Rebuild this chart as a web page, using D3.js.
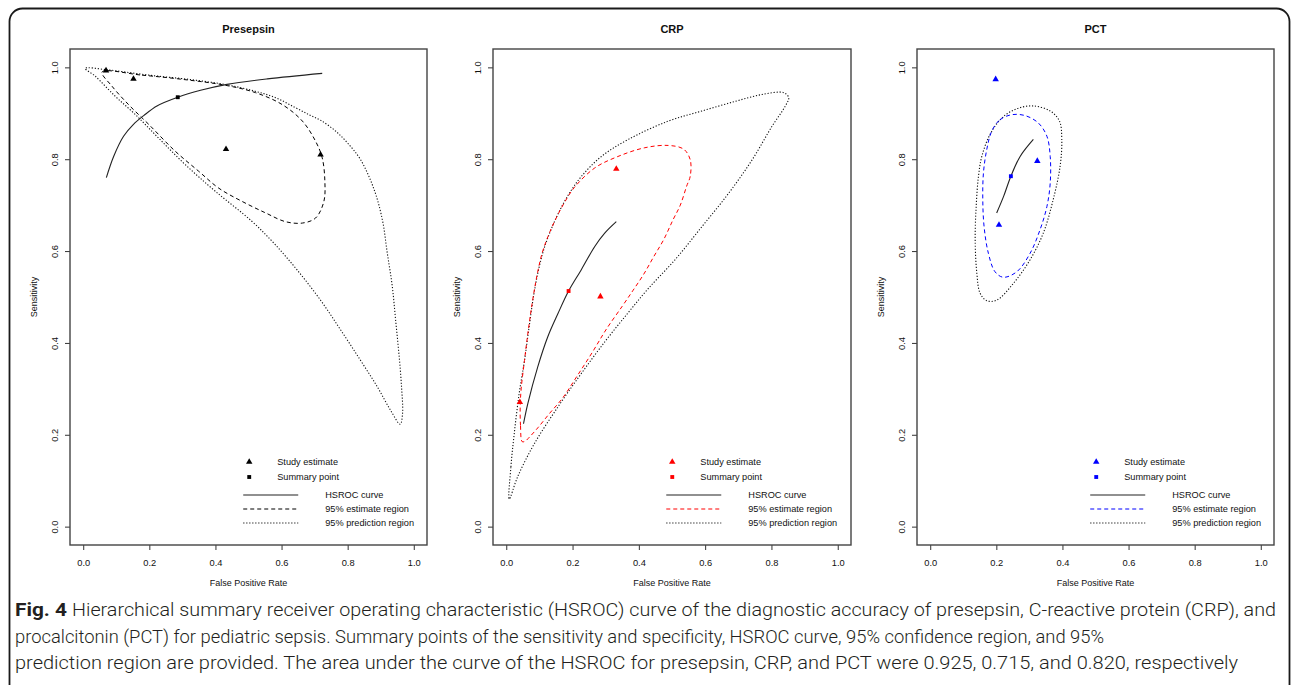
<!DOCTYPE html>
<html lang="en">
<head>
<meta charset="utf-8">
<style>
  body { margin: 0; background: #fff; }
  svg text { font-family: "Liberation Sans", Arial, sans-serif; fill: #111; }
</style>
</head>
<body>
<div id="chart"></div>
<script src="https://cdnjs.cloudflare.com/ajax/libs/d3/7.8.5/d3.min.js"></script>
<script>
// values: [false positive rate, sensitivity]
var axisTicks = [0, 0.2, 0.4, 0.6, 0.8, 1.0];

var presepsinStudies = [[0.069, 0.993], [0.152, 0.975], [0.432, 0.822], [0.718, 0.810]];
var presepsinSummary = [0.286, 0.935];
var presepsinCurve = [[0.070, 0.760], [0.092, 0.806], [0.122, 0.850], [0.152, 0.876], [0.183, 0.895],
  [0.223, 0.916], [0.286, 0.935], [0.355, 0.950], [0.435, 0.963], [0.557, 0.975], [0.723, 0.987]];
var presepsinEstimate = [[0.057, 0.990], [0.178, 0.983], [0.299, 0.974], [0.430, 0.961], [0.521, 0.945],
  [0.602, 0.919], [0.663, 0.883], [0.703, 0.839], [0.723, 0.803], [0.731, 0.752], [0.728, 0.708],
  [0.703, 0.672], [0.663, 0.661], [0.612, 0.664], [0.552, 0.683], [0.481, 0.708], [0.410, 0.737],
  [0.349, 0.774], [0.279, 0.817], [0.198, 0.876], [0.137, 0.919], [0.087, 0.959]];
var presepsinPrediction = [[0.006, 0.998], [0.070, 0.995], [0.200, 0.983], [0.330, 0.973], [0.435, 0.962],
  [0.520, 0.948], [0.582, 0.934], [0.640, 0.913], [0.683, 0.897], [0.720, 0.884], [0.764, 0.861],
  [0.800, 0.835], [0.839, 0.799], [0.880, 0.734], [0.905, 0.668], [0.920, 0.595], [0.935, 0.523],
  [0.945, 0.450], [0.955, 0.377], [0.963, 0.304], [0.966, 0.246], [0.959, 0.223], [0.930, 0.253],
  [0.890, 0.304], [0.839, 0.362], [0.779, 0.428], [0.718, 0.493], [0.647, 0.559], [0.577, 0.617],
  [0.510, 0.665], [0.400, 0.730], [0.309, 0.788], [0.228, 0.846], [0.158, 0.897], [0.097, 0.937],
  [0.036, 0.981]];

var crpStudies = [[0.332, 0.779], [0.284, 0.501], [0.041, 0.271]];
var crpSummary = [0.188, 0.513];
var crpCurve = [[0.052, 0.224], [0.065, 0.268], [0.095, 0.348], [0.125, 0.413], [0.156, 0.464],
  [0.188, 0.513], [0.226, 0.559], [0.267, 0.610], [0.297, 0.639], [0.332, 0.664]];
var crpEstimate = [[0.048, 0.185], [0.043, 0.220], [0.042, 0.260], [0.045, 0.300], [0.055, 0.362],
  [0.066, 0.425], [0.079, 0.490], [0.093, 0.548], [0.108, 0.595], [0.126, 0.632], [0.148, 0.668],
  [0.175, 0.705], [0.206, 0.739], [0.267, 0.781], [0.337, 0.806], [0.418, 0.825], [0.489, 0.830],
  [0.535, 0.822], [0.555, 0.799], [0.555, 0.763], [0.544, 0.741], [0.525, 0.700], [0.503, 0.668],
  [0.475, 0.625], [0.445, 0.588], [0.415, 0.550], [0.383, 0.515], [0.350, 0.480], [0.302, 0.430],
  [0.260, 0.380], [0.212, 0.326], [0.170, 0.280], [0.130, 0.246], [0.095, 0.215], [0.070, 0.195],
  [0.057, 0.186]];
var crpPrediction = [[0.009, 0.060], [0.014, 0.130], [0.024, 0.202], [0.039, 0.290], [0.055, 0.362],
  [0.069, 0.435], [0.083, 0.505], [0.097, 0.558], [0.113, 0.603], [0.133, 0.643], [0.157, 0.682],
  [0.187, 0.722], [0.226, 0.762], [0.287, 0.806], [0.368, 0.843], [0.489, 0.883], [0.590, 0.905],
  [0.691, 0.926], [0.772, 0.941], [0.837, 0.945], [0.852, 0.934], [0.842, 0.916], [0.802, 0.872],
  [0.742, 0.799], [0.671, 0.726], [0.590, 0.653], [0.509, 0.581], [0.428, 0.518], [0.368, 0.466],
  [0.300, 0.405], [0.226, 0.333], [0.160, 0.265], [0.085, 0.181], [0.034, 0.108]];

var pctStudies = [[0.198, 0.974], [0.324, 0.796], [0.208, 0.657]];
var pctSummary = [0.244, 0.763];
var pctCurve = [[0.201, 0.683], [0.222, 0.719], [0.244, 0.763], [0.272, 0.806], [0.312, 0.843]];
var pctEstimate = [[0.186, 0.861], [0.211, 0.886], [0.247, 0.897], [0.287, 0.895], [0.327, 0.879],
  [0.353, 0.850], [0.363, 0.806], [0.363, 0.748], [0.353, 0.697], [0.332, 0.646], [0.302, 0.595],
  [0.262, 0.555], [0.221, 0.543], [0.196, 0.555], [0.176, 0.595], [0.163, 0.653], [0.159, 0.712],
  [0.161, 0.770], [0.171, 0.821]];
var pctPrediction = [[0.181, 0.854], [0.217, 0.890], [0.262, 0.910], [0.312, 0.916], [0.363, 0.905],
  [0.391, 0.883], [0.398, 0.843], [0.393, 0.785], [0.372, 0.712], [0.342, 0.639], [0.302, 0.581],
  [0.252, 0.530], [0.201, 0.493], [0.171, 0.492], [0.151, 0.508], [0.141, 0.552], [0.136, 0.624],
  [0.139, 0.697], [0.146, 0.763], [0.156, 0.806]];

var legendLabels = ["Study estimate", "Summary point", "HSROC curve", "95% estimate region", "95% prediction region"];

var captionLines = [
  "Hierarchical summary receiver operating characteristic (HSROC) curve of the diagnostic accuracy of presepsin, C-reactive protein (CRP), and",
  "procalcitonin (PCT) for pediatric sepsis. Summary points of the sensitivity and specificity, HSROC curve, 95% confidence region, and 95%",
  "prediction region are provided. The area under the curve of the HSROC for presepsin, CRP, and PCT were 0.925, 0.715, and 0.820, respectively"
];

var WIDTH = 1292, HEIGHT = 685;
var TOP = 49, BOTTOM = 545;

var panels = [
  {title: "Presepsin", left: 70, right: 427, color: "#000", studies: presepsinStudies, summary: presepsinSummary,
   curve: presepsinCurve, estimate: presepsinEstimate, prediction: presepsinPrediction},
  {title: "CRP", left: 493, right: 851, color: "#ff0000", studies: crpStudies, summary: crpSummary,
   curve: crpCurve, estimate: crpEstimate, prediction: crpPrediction},
  {title: "PCT", left: 917, right: 1274, color: "#0000ff", studies: pctStudies, summary: pctSummary,
   curve: pctCurve, estimate: pctEstimate, prediction: pctPrediction}
];

var svg = d3.select("#chart").append("svg").attr("width", WIDTH).attr("height", HEIGHT);

// rounded figure frame
svg.append("rect").attr("x", 9.5).attr("y", 8.5).attr("width", 1280).attr("height", 690)
  .attr("rx", 13).attr("fill", "none").attr("stroke", "#1a1a1a").attr("stroke-width", 1.8);

var y = d3.scaleLinear().domain([-0.04, 1.04]).range([BOTTOM, TOP]);
var triangle = d3.symbol().type(d3.symbolTriangle).size(18);
var square = d3.symbol().type(d3.symbolSquare).size(15);
var DOTS = "1.2,1.8", DASH = "4,3";

panels.forEach(function(p) {
  var x = d3.scaleLinear().domain([-0.04, 1.04]).range([p.left, p.right]);
  var g = svg.append("g");
  var closed = d3.line().x(d => x(d[0])).y(d => y(d[1])).curve(d3.curveCatmullRomClosed.alpha(0.5));
  var open = d3.line().x(d => x(d[0])).y(d => y(d[1])).curve(d3.curveCatmullRom.alpha(0.5));

  // title
  g.append("text").attr("x", (p.left + p.right) / 2).attr("y", 33).attr("text-anchor", "middle")
    .style("font-size", "11px").style("font-weight", "bold").text(p.title);

  // x axis
  var xa = g.append("g").attr("transform", "translate(0," + BOTTOM + ")")
    .call(d3.axisBottom(x).tickValues(axisTicks).tickFormat(d3.format(".1f")).tickSize(5).tickSizeOuter(0));
  xa.select(".domain").remove();
  xa.selectAll("line").attr("stroke", "#333");
  xa.selectAll("text").attr("y", 0).attr("dy", "21px").style("font-size", "9.3px")
    .style("font-family", "'Liberation Sans', Arial, sans-serif").attr("fill", "#111");

  // y axis with labels parallel to axis
  var ya = g.append("g").attr("transform", "translate(" + p.left + ",0)")
    .call(d3.axisLeft(y).tickValues(axisTicks).tickFormat(d3.format(".1f")).tickSize(5).tickSizeOuter(0));
  ya.select(".domain").remove();
  ya.selectAll("line").attr("stroke", "#333");
  ya.selectAll("text").attr("x", null).attr("dy", null).attr("text-anchor", "middle")
    .attr("transform", "translate(-12,0) rotate(-90)")
    .style("font-size", "9.3px").style("font-family", "'Liberation Sans', Arial, sans-serif").attr("fill", "#111");

  // axis titles
  g.append("text").attr("x", x(0.5)).attr("y", 586).attr("text-anchor", "middle")
    .style("font-size", "9px").text("False Positive Rate");
  g.append("text").attr("transform", "translate(" + (p.left - 33) + "," + ((TOP + BOTTOM) / 2) + ") rotate(-90)")
    .attr("text-anchor", "middle").style("font-size", "9px").text("Sensitivity");

  // plot box
  g.append("rect").attr("x", p.left).attr("y", TOP).attr("width", p.right - p.left).attr("height", BOTTOM - TOP)
    .attr("fill", "none").attr("stroke", "#444").attr("stroke-width", 1.4);

  // regions and curve
  g.append("path").attr("d", closed(p.prediction)).attr("fill", "none").attr("stroke", "#111")
    .attr("stroke-width", 1.1).attr("stroke-dasharray", DOTS);
  g.append("path").attr("d", closed(p.estimate)).attr("fill", "none").attr("stroke", p.color)
    .attr("stroke-width", 1).attr("stroke-dasharray", DASH);
  g.append("path").attr("d", open(p.curve)).attr("fill", "none").attr("stroke", "#222").attr("stroke-width", 1.1);

  // points
  g.selectAll(".study").data(p.studies).join("path").attr("class", "study")
    .attr("transform", d => "translate(" + x(d[0]) + "," + y(d[1]) + ")")
    .attr("d", triangle).attr("fill", p.color);
  g.append("path").attr("transform", "translate(" + x(p.summary[0]) + "," + y(p.summary[1]) + ")")
    .attr("d", square).attr("fill", p.color);

  // legend
  var lx = x(0);
  var ly = [462, 477, 495, 509, 523];
  g.append("path").attr("transform", "translate(" + (lx + 166) + "," + ly[0] + ")").attr("d", triangle).attr("fill", p.color);
  g.append("path").attr("transform", "translate(" + (lx + 166) + "," + ly[1] + ")").attr("d", square).attr("fill", p.color);
  [["#222", null], [p.color, DASH], ["#111", DOTS]].forEach(function(s, i) {
    g.append("line").attr("x1", lx + 160).attr("x2", lx + 215).attr("y1", ly[i + 2]).attr("y2", ly[i + 2])
      .attr("stroke", s[0]).attr("stroke-width", 1.1).attr("stroke-dasharray", s[1]);
  });
  legendLabels.forEach(function(t, i) {
    g.append("text").attr("x", lx + (i < 2 ? 194 : 242)).attr("y", ly[i] + 3.3)
      .style("font-size", "9.2px").text(t);
  });
});

// caption
var capFont = "Roboto, 'Noto Sans', sans-serif";
var cap = svg.append("g");
cap.append("text").attr("x", 15).attr("y", 616).attr("textLength", 52).attr("lengthAdjust", "spacingAndGlyphs")
  .style("font-family", capFont).style("font-size", "18.5px").style("fill", "#231f20")
  .style("font-weight", "bold").text("Fig. 4");
var capX = [72, 15, 15], capEnd = [1276, 1104, 1238], capY = [616, 643, 669];
captionLines.forEach(function(t, i) {
  cap.append("text").attr("x", capX[i]).attr("y", capY[i]).attr("textLength", capEnd[i] - capX[i])
    .attr("lengthAdjust", "spacingAndGlyphs").style("fill", "#231f20")
    .style("font-family", capFont).style("font-size", "18.5px").style("font-weight", "300").text(t);
});
</script>
</body>
</html>
